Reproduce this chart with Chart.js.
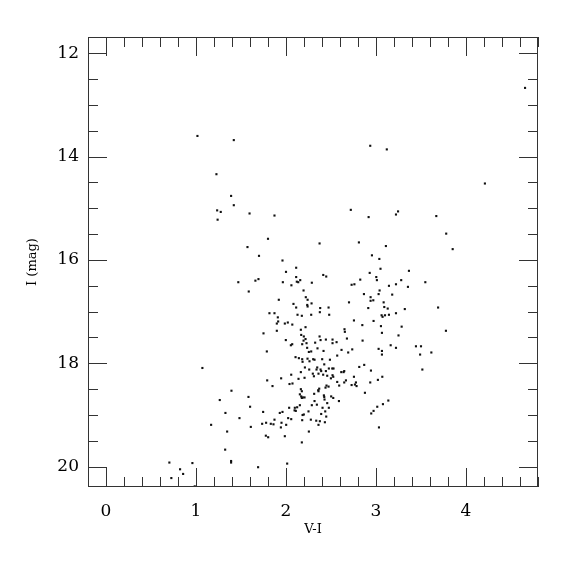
<!DOCTYPE html>
<html>
<head>
<meta charset="utf-8">
<script src="https://cdn.jsdelivr.net/npm/chart.js@4.4.1/dist/chart.umd.min.js"></script>
<style>
  body { margin: 0; background: #fff; }
  canvas { display: block; }
</style>
</head>
<body>
<canvas id="cmd" width="575" height="575"></canvas>
<script>
// colour-magnitude diagram, values
let vi = [
  1.016, 1.42, 1.227, 2.936, 3.12, 4.656, 4.21,
  1.39, 1.42, 1.235, 1.275, 1.24, 1.47,
  1.595, 1.872, 2.72, 2.918, 1.80, 1.572, 2.373, 2.81, 3.11, 1.70, 1.961, 2.955, 3.037,
  2.113, 3.05, 2.00, 2.93, 2.414, 2.447, 2.113, 3.003, 1.694, 1.66, 2.158, 3.01, 2.12, 2.136,
  1.965, 2.287, 2.825, 2.06, 2.729, 2.76, 3.144, 1.586, 2.195, 3.04, 2.866, 3.029, 2.22, 2.94,
  1.92, 2.24, 2.94, 2.97, 2.70, 2.083, 2.284, 3.085, 2.236, 2.24, 2.113, 3.092, 2.38, 2.473,
  2.914, 3.13, 1.816, 1.872, 2.376, 2.128, 2.176, 2.28, 2.48, 1.909, 3.062, 3.073, 3.10, 3.144,
  1.913, 1.898, 1.987, 2.02, 2.07, 2.755, 2.848, 2.973, 3.055, 2.217, 2.165, 1.898, 1.75, 2.169,
  2.65, 2.654, 3.066,
  3.245, 3.222, 3.67, 3.78, 3.852, 3.366, 3.28, 3.222, 3.355, 3.548, 3.18, 3.69, 3.32, 3.222,
  3.285, 3.777, 3.25,
  3.163, 3.222, 3.444, 3.50, 3.615, 3.49, 3.515, 3.137,
  1.071, 1.394, 1.264, 1.327, 1.168, 1.346, 1.324, 1.39, 1.39, 0.704, 0.96, 0.823, 0.726, 0.857, 0.986,
  1.998, 2.198, 2.217, 2.195, 2.069, 2.054, 2.180, 2.228, 1.787, 2.235, 2.254, 2.106, 2.143,
  2.180, 2.184, 2.239, 2.261, 2.210, 2.165, 2.258, 2.058, 2.139, 2.206, 1.946, 1.791, 2.039,
  2.072, 1.850, 2.165, 2.176, 2.154, 2.169, 2.187, 2.206, 2.176, 1.583, 2.154, 2.124, 2.095,
  2.035, 2.098, 1.601, 1.746, 1.931, 1.961, 2.250, 2.109, 2.184, 2.198, 2.024, 2.058, 1.483,
  1.872, 2.180, 1.735, 1.779, 1.831, 1.861, 1.950, 2.002, 1.609, 1.943, 2.254,
  2.176, 1.987, 1.776, 1.802, 2.013, 1.690,
  2.373, 2.324, 2.384, 2.443, 2.517, 2.517, 2.562, 2.677, 2.851, 2.350, 2.417, 2.617, 2.691,
  2.736, 3.029, 3.066, 3.066, 2.280, 2.302, 2.317, 2.402, 2.488, 2.569, 2.425, 2.514, 2.476,
  2.528, 2.347, 2.339, 2.384, 2.391, 2.443, 2.814, 2.869, 2.944, 2.614, 2.640, 2.647, 2.298,
  2.310, 2.361, 2.413, 2.458, 2.517, 2.525, 2.499, 2.755, 3.070, 3.021, 2.666, 2.647, 2.569,
  2.729, 2.766, 2.777, 2.784, 2.936, 2.450, 2.473, 2.439, 2.591, 2.369, 2.358, 2.361, 2.877,
  2.313, 2.421, 2.425, 2.428, 2.458, 2.502, 2.525, 2.317, 2.287, 2.343, 2.588, 3.077, 3.014,
  2.476, 2.406, 2.436, 2.973, 2.947, 2.391, 2.447, 2.276, 2.336, 2.376, 2.361, 2.432, 3.033
];
let imag = [
  13.60, 13.68, 14.34, 13.79, 13.86, 12.67, 14.52,
  14.76, 14.94, 15.04, 15.07, 15.22, 16.43,
  15.10, 15.14, 15.03, 15.17, 15.59, 15.75, 15.68, 15.66, 15.73, 15.92, 16.01, 15.91, 15.98,
  16.15, 16.17, 16.23, 16.25, 16.29, 16.32, 16.33, 16.33, 16.37, 16.40, 16.39, 16.39, 16.42, 16.43,
  16.43, 16.44, 16.38, 16.49, 16.48, 16.47, 16.50, 16.61, 16.59, 16.59, 16.66, 16.66, 16.72, 16.72,
  16.77, 16.77, 16.79, 16.78, 16.82, 16.85, 16.84, 16.82, 16.87, 16.90, 16.92, 16.91, 16.93, 16.92,
  16.93, 16.94, 17.03, 17.03, 17.01, 17.06, 17.08, 17.06, 17.06, 17.11, 17.07, 17.10, 17.07, 17.06,
  17.19, 17.23, 17.23, 17.21, 17.25, 17.17, 17.26, 17.18, 17.28, 17.30, 17.35, 17.37, 17.42, 17.45,
  17.34, 17.39, 17.41,
  15.06, 15.12, 15.15, 15.49, 15.79, 16.21, 16.39, 16.47, 16.52, 16.43, 16.67, 16.92, 16.95, 17.03,
  17.29, 17.37, 17.46,
  17.65, 17.70, 17.67, 17.67, 17.79, 17.83, 18.12, 18.72,
  18.09, 18.53, 18.71, 18.96, 19.19, 19.32, 19.67, 19.89, 19.92, 19.92, 19.93, 20.05, 20.22, 20.14, 20.38,
  17.55, 17.48, 17.53, 17.56, 17.63, 17.65, 17.63, 17.61, 17.77, 17.70, 17.78, 17.88, 17.90,
  17.92, 17.97, 17.91, 17.96, 18.08, 18.17, 18.12, 18.22, 18.30, 18.28, 18.29, 18.33, 18.40,
  18.39, 18.44, 18.50, 18.54, 18.60, 18.64, 18.66, 18.66, 18.67, 18.65, 18.81, 18.85, 18.91,
  18.86, 18.86, 18.84, 18.94, 18.96, 18.94, 18.93, 18.92, 19.00, 18.99, 19.06, 19.08, 19.06,
  19.09, 19.10, 19.17, 19.15, 19.17, 19.18, 19.15, 19.19, 19.23, 19.24, 19.32,
  19.53, 19.41, 19.40, 19.43, 19.94, 20.01,
  17.48, 17.60, 17.55, 17.54, 17.54, 17.61, 17.59, 17.52, 17.56, 17.71, 17.76, 17.74, 17.79,
  17.73, 17.72, 17.76, 17.83, 17.77, 17.92, 17.93, 17.92, 17.93, 17.85, 18.02, 18.10, 18.10,
  18.10, 18.08, 18.12, 18.12, 18.15, 18.15, 18.07, 18.03, 18.14, 18.17, 18.17, 18.15, 18.20,
  18.25, 18.20, 18.22, 18.24, 18.23, 18.26, 18.29, 18.26, 18.26, 18.32, 18.33, 18.37, 18.36,
  18.42, 18.41, 18.37, 18.44, 18.37, 18.43, 18.45, 18.47, 18.43, 18.49, 18.52, 18.54, 18.57,
  18.59, 18.62, 18.65, 18.70, 18.77, 18.64, 18.67, 18.73, 18.81, 18.80, 18.73, 18.79, 18.84,
  18.86, 18.86, 18.93, 18.92, 18.97, 18.98, 19.03, 19.09, 19.11, 19.12, 19.19, 19.14, 19.24
];

// axes
let xLabels = [0, 1, 2, 3, 4];
let yLabels = [12, 14, 16, 18, 20];
let xMin = -0.2, xMax = 4.8, xStep = 0.2;
let yMin = 11.685, yMax = 20.393, yStep = 0.5;

function stepTicks(from, to, step, labels) {
  var out = [];
  var start = Math.ceil(from / step - 1e-9) * step;
  for (var v = start; v <= to + 1e-9; v += step) {
    var r = Math.round(v * 100) / 100;
    out.push({ value: r, big: labels.includes(r) });
  }
  return out;
}

// inward ticks on all four sides + frame
const frameTicks = {
  id: 'frameTicks',
  afterDatasetsDraw(chart) {
    const { ctx, chartArea: a, scales } = chart;
    ctx.save();
    ctx.strokeStyle = '#333';
    ctx.lineWidth = 1;
    ctx.strokeRect(a.left + 0.5, a.top + 0.5, a.right - a.left - 1, a.bottom - a.top - 1);
    ctx.beginPath();
    scales.x.ticks.forEach(t => {
      var px = Math.round(scales.x.getPixelForValue(t.value)) + 0.5;
      var len = t.big ? 19 : 10;
      ctx.moveTo(px, a.bottom); ctx.lineTo(px, a.bottom - len);
      ctx.moveTo(px, a.top); ctx.lineTo(px, a.top + len);
    });
    scales.y.ticks.forEach(t => {
      var py = Math.round(scales.y.getPixelForValue(t.value)) + 0.5;
      var len = t.big ? 19 : 10;
      ctx.moveTo(a.left, py); ctx.lineTo(a.left + len, py);
      ctx.moveTo(a.right, py); ctx.lineTo(a.right - len, py);
    });
    ctx.stroke();
    ctx.restore();
  }
};

let pts = vi.map((v, i) => ({ x: v, y: imag[i] }));
let serif = '"DejaVu Serif", "Liberation Serif", serif';

new Chart(document.getElementById('cmd'), {
  type: 'scatter',
  data: {
    datasets: [{
      data: pts,
      pointStyle: 'rect',
      pointRadius: 1.5,
      pointBorderWidth: 0,
      backgroundColor: '#111',
      borderColor: '#111'
    }]
  },
  options: {
    responsive: false,
    devicePixelRatio: 1,
    animation: false,
    layout: { padding: { left: 0, top: 37, right: 37, bottom: 0 } },
    plugins: { legend: { display: false }, tooltip: { enabled: false } },
    scales: {
      x: {
        type: 'linear', min: xMin, max: xMax,
        grid: { display: false, drawTicks: false },
        border: { display: false },
        afterBuildTicks: s => { s.ticks = stepTicks(xMin, xMax, xStep, xLabels); },
        afterFit: s => { s.height = 88; },
        ticks: {
          autoSkip: false, maxRotation: 0, padding: 14, color: '#000',
          font: { family: serif, size: 17 },
          callback: v => xLabels.includes(v) ? String(v) : ''
        },
        title: { display: true, text: 'V-I', color: '#000', font: { family: serif, size: 13 }, padding: { top: 0, bottom: 38 } }
      },
      y: {
        type: 'linear', min: yMin, max: yMax, reverse: true,
        grid: { display: false, drawTicks: false },
        border: { display: false },
        afterBuildTicks: s => { s.ticks = stepTicks(yMin, yMax, yStep, yLabels); },
        afterFit: s => { s.width = 88; },
        ticks: {
          autoSkip: false, padding: 9, color: '#000',
          font: { family: serif, size: 17 },
          callback: v => yLabels.includes(v) ? String(v) : ''
        },
        title: { display: true, text: 'I (mag)', color: '#000', font: { family: serif, size: 13 }, padding: { top: 25, bottom: 0 } }
      }
    }
  },
  plugins: [frameTicks]
});
</script>
</body>
</html>
